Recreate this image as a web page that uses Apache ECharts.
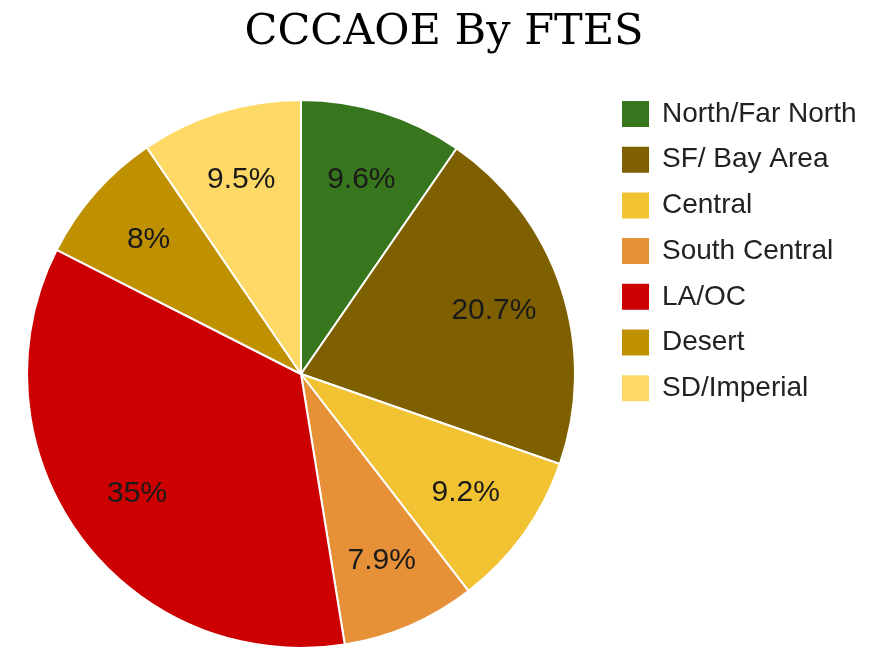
<!DOCTYPE html>
<html lang="en">
	<head>
		<meta charset="UTF-8" />
		<title>CCCAOE By FTES</title>
		<style>
			html, body { margin: 0; padding: 0; background: #fff; }
		</style>
	</head>
	<body>
		<div id="main" style="width: 879px; height: 648px"></div>
		<script src="https://cdn.jsdelivr.net/npm/echarts@6/dist/echarts.min.js"></script>
		<script>
			// data
			var regions = ["North/Far North", "SF/ Bay Area", "Central", "South Central", "LA/OC", "Desert", "SD/Imperial"];
			var shares = [9.6, 20.7, 9.2, 7.9, 35, 8, 9.5];
			var colors = ["#38761d", "#7f6000", "#f1c232", "#e69138", "#cc0000", "#bf9000", "#ffd966"];

			var myChart = echarts.init(document.getElementById("main"));

			var pieData = regions.map(function (name, i) {
				return { name: name, value: shares[i] };
			});

			var option = {
				color: colors,
				title: {
					text: "CCCAOE By FTES",
					left: 439,
					textAlign: "center",
					top: 6,
					textStyle: {
						fontFamily: "DejaVu Serif",
						fontWeight: "normal",
						fontSize: 43,
						color: "#000",
					},
				},
				legend: {
					orient: "vertical",
					left: 620,
					top: 98,
					padding: 0,
					itemWidth: 29,
					itemHeight: 28,
					itemGap: 13.7,
					icon: "rect",
					data: regions,
					textStyle: {
						fontFamily: "Liberation Sans",
						fontSize: 28,
						lineHeight: 32,
						color: "#222",
						padding: [0, 0, 0, 7],
					},
				},
				series: [
					{
						type: "pie",
						center: [301, 374],
						radius: 274,
						startAngle: 90,
						clockwise: true,
						silent: true,
						data: pieData,
						itemStyle: { borderColor: "#fff", borderWidth: 2 },
						label: { show: false },
						labelLine: { show: false },
					},
					{
						// transparent ring only to place the labels at ~3/4 radius
						type: "pie",
						center: [301, 374],
						radius: [126, 274],
						startAngle: 90,
						clockwise: true,
						silent: true,
						data: pieData,
						itemStyle: { color: "rgba(0,0,0,0)" },
						label: {
							show: true,
							position: "inside",
							formatter: function (p) {
								return p.value + "%";
							},
							fontFamily: "Liberation Sans",
							fontSize: 30,
							color: "#1a1a1a",
						},
						labelLine: { show: false },
					},
				],
			};

			myChart.setOption(option);
		</script>
	</body>
</html>
